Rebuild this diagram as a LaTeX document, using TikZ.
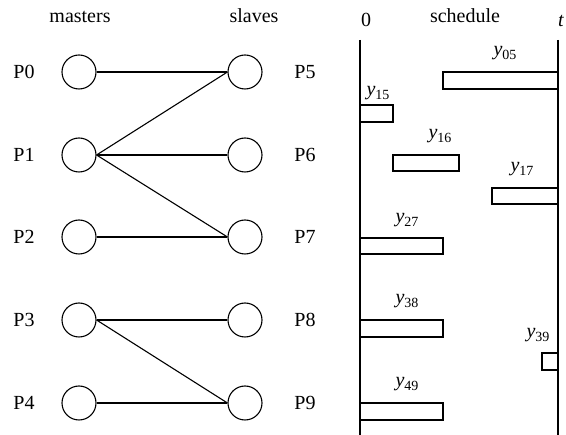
\documentclass[tikz,border=0pt]{standalone}
\usepackage{fontspec}
\setmainfont{Liberation Serif}
\newcommand{\ylab}[1]{\textit{y}\raisebox{-4.5pt}{\fontsize{14}{14}\selectfont #1}}
\begin{document}
\begin{tikzpicture}[x=1pt,y=-1pt,
  proc/.style={circle,draw,line width=1.1pt,minimum size=34pt,inner sep=0pt},
  plabel/.style={font=\fontsize{20}{20}\selectfont},
  head/.style={font=\fontsize{20}{20}\selectfont,anchor=base,inner sep=0pt},
  edge/.style={line width=1.1pt},
  bar/.style={draw,line width=1.3pt},
  axis/.style={line width=1.3pt},
  ylabel/.style={font=\fontsize{20}{20}\selectfont,anchor=base,inner sep=0pt}]
\useasboundingbox (0,0) rectangle (566,435);
% headers
\node[head] (hm) at (80,23) {masters};
\node[head] (hs) at (254,23) {slaves};
\node[head] (hsc) at (465,23) {schedule};
\node[head] (h0) at (366,27) {0};
\node[head] (ht) at (561,27) {\textit{t}};
% masters
\foreach \i/\y in {0/72,1/155,2/237,3/320,4/403}{
  \node[proc] (m\i) at (79,\y) {};
  \node[plabel] (lm\i) at (24,\y) {P\i};
}
% slaves
\foreach \i/\y in {5/72,6/155,7/237,8/320,9/403}{
  \node[proc] (s\i) at (245,\y) {};
  \node[plabel] (ls\i) at (305,\y) {P\i};
}
% edges
\draw[edge] (m0.east) -- (s5.west);
\draw[edge] (m1.east) -- (s5.west);
\draw[edge] (m1.east) -- (s6.west);
\draw[edge] (m1.east) -- (s7.west);
\draw[edge] (m2.east) -- (s7.west);
\draw[edge] (m3.east) -- (s8.west);
\draw[edge] (m3.east) -- (s9.west);
\draw[edge] (m4.east) -- (s9.west);
% schedule axes
\coordinate (a0t) at (360,40);
\coordinate (a0b) at (360,435);
\coordinate (att) at (558,40);
\coordinate (atb) at (558,435);
\draw[axis] (a0t) -- (a0b);
\draw[axis] (att) -- (atb);
% bars
\draw[bar] (443,72) rectangle (558,89);
\draw[bar] (360,105) rectangle (393,122);
\draw[bar] (393,155) rectangle (459,171);
\draw[bar] (492,188) rectangle (558,204);
\draw[bar] (360,238) rectangle (443,254);
\draw[bar] (360,320) rectangle (443,337);
\draw[bar] (542,353) rectangle (558,370);
\draw[bar] (360,403) rectangle (443,420);
% bar labels
\node[ylabel] (y05) at (505,55.5) {\ylab{05}};
\node[ylabel] (y15) at (378,95.5) {\ylab{15}};
\node[ylabel] (y16) at (440,138.5) {\ylab{16}};
\node[ylabel] (y17) at (522,171.5) {\ylab{17}};
\node[ylabel] (y27) at (407,222.5) {\ylab{27}};
\node[ylabel] (y38) at (407,303.5) {\ylab{38}};
\node[ylabel] (y39) at (538,337.5) {\ylab{39}};
\node[ylabel] (y49) at (407,386.5) {\ylab{49}};
\end{tikzpicture}
\end{document}
